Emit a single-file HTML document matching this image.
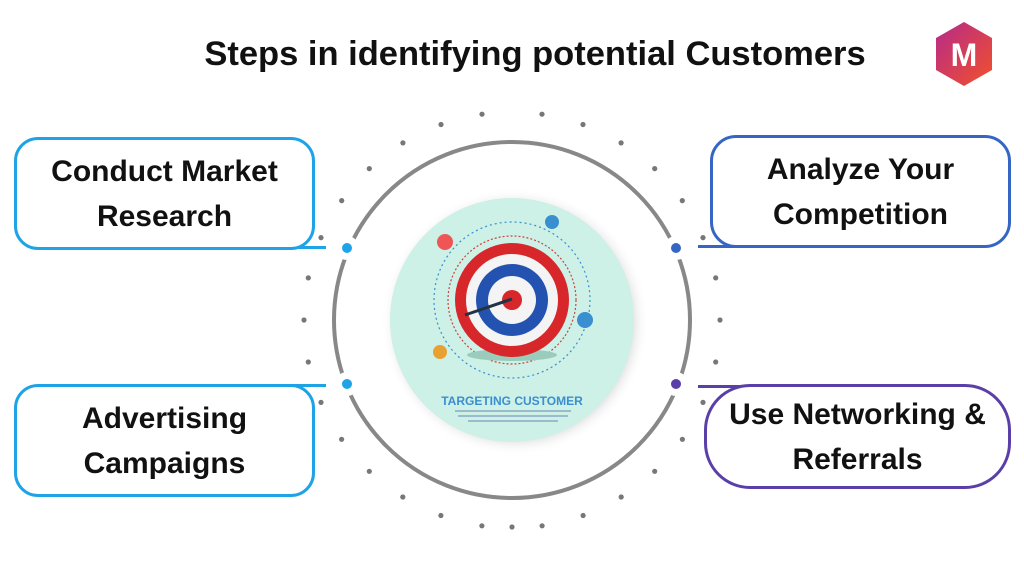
<!DOCTYPE html>
<html><head><meta charset="utf-8"><style>
body{margin:0;width:1024px;height:576px;background:#fff;overflow:hidden;position:relative;font-family:"Liberation Sans",sans-serif}
.title{position:absolute;left:0;width:1070px;top:35px;text-align:center;font-weight:bold;font-size:34.5px;color:#111}
.box{position:absolute;background:#fff;border:3px solid;box-sizing:border-box;display:flex;align-items:center;justify-content:center;text-align:center;font-weight:bold;font-size:30px;line-height:45px;color:#111}
</style></head><body>
<svg width="1024" height="576" style="position:absolute;left:0;top:0">
<defs>
<radialGradient id="sh" cx="50%" cy="50%" r="50%"><stop offset="78%" stop-color="#aaa"/><stop offset="100%" stop-color="#fff" stop-opacity="0"/></radialGradient>
<linearGradient id="hx" x1="0" y1="0" x2="1" y2="1"><stop offset="0" stop-color="#b52a8a"/><stop offset="1" stop-color="#f2512a"/></linearGradient>
</defs>
<g id="dots" fill="#777"></g>
<circle cx="512" cy="320" r="178" fill="none" stroke="#888" stroke-width="4"/>
<circle cx="347" cy="248" r="12" fill="#fff"/><circle cx="347" cy="384" r="12" fill="#fff"/>
<circle cx="676" cy="248" r="12" fill="#fff"/><circle cx="676" cy="384" r="12" fill="#fff"/>
<circle cx="347" cy="248" r="5" fill="#1ea4e6"/><circle cx="347" cy="384" r="5" fill="#1ea4e6"/>
<circle cx="676" cy="248" r="5" fill="#3566c4"/><circle cx="676" cy="384" r="5" fill="#5b3fa8"/>
<line x1="290" y1="247.5" x2="326" y2="247.5" stroke="#1ea4e6" stroke-width="3"/>
<line x1="290" y1="385.5" x2="326" y2="385.5" stroke="#1ea4e6" stroke-width="3"/>
<line x1="698" y1="246.5" x2="740" y2="246.5" stroke="#3566c4" stroke-width="3"/>
<line x1="698" y1="386.5" x2="740" y2="386.5" stroke="#5b3fa8" stroke-width="3"/>
<circle cx="515" cy="322" r="134" fill="url(#sh)"/>
<circle cx="512" cy="320" r="122" fill="#cdf0e7"/>
<circle cx="512" cy="300" r="78" fill="none" stroke="#3a8fd0" stroke-width="1.2" stroke-dasharray="2 3"/>
<circle cx="512" cy="300" r="64" fill="none" stroke="#c44" stroke-width="1.2" stroke-dasharray="2 2"/>
<ellipse cx="512" cy="355" rx="45" ry="6" fill="#9cb"/>
<circle cx="512" cy="300" r="57" fill="#d8272b"/>
<circle cx="512" cy="300" r="46" fill="#f4f4f4"/>
<circle cx="512" cy="300" r="36" fill="#2352b0"/>
<circle cx="512" cy="300" r="24" fill="#f4f4f4"/>
<circle cx="512" cy="300" r="10" fill="#d8272b"/>
<line x1="465" y1="315" x2="512" y2="299" stroke="#234" stroke-width="3"/>
<circle cx="445" cy="242" r="8" fill="#e55"/><circle cx="552" cy="222" r="7" fill="#3a8fd0"/>
<circle cx="585" cy="320" r="8" fill="#3a8fd0"/><circle cx="440" cy="352" r="7" fill="#e8a030"/>
<text x="512" y="405" text-anchor="middle" font-family="Liberation Sans" font-weight="bold" font-size="12" fill="#3a8fd0">TARGETING CUSTOMER</text>
<rect x="455" y="410" width="116" height="2" fill="#9bc"/><rect x="458" y="415" width="110" height="2" fill="#9bc"/><rect x="468" y="420" width="90" height="2" fill="#9bc"/>
<polygon points="964,22 992,38 992,70 964,86 936,70 936,38" fill="url(#hx)"/>
<text x="964" y="66" text-anchor="middle" font-family="Liberation Sans" font-weight="bold" font-size="32" fill="#fff">M</text>
</svg>
<script>
var g=document.getElementById('dots'),s='';
for(var k=0;k<15;k++){var a=(8.3+11.67*k)*Math.PI/180;[1,-1].forEach(function(sg){var x=512+sg*208*Math.sin(a),y=320-208*Math.cos(a);s+='<circle cx="'+x.toFixed(1)+'" cy="'+y.toFixed(1)+'" r="2.6"/>';});}
s+='<circle cx="512" cy="527" r="2.6"/>';
g.innerHTML=s;
</script>
<div class="title">Steps in identifying potential Customers</div>
<div class="box" style="left:14px;top:137px;width:301px;height:113px;border-color:#1ea4e6;border-radius:24px">Conduct Market<br>Research</div>
<div class="box" style="left:710px;top:135px;width:301px;height:113px;border-color:#3566c4;border-radius:26px">Analyze Your<br>Competition</div>
<div class="box" style="left:14px;top:384px;width:301px;height:113px;border-color:#1ea4e6;border-radius:24px">Advertising<br>Campaigns</div>
<div class="box" style="left:704px;top:384px;width:307px;height:105px;border-color:#5b3fa8;border-radius:46px">Use Networking &amp;<br>Referrals</div>
</body></html>
